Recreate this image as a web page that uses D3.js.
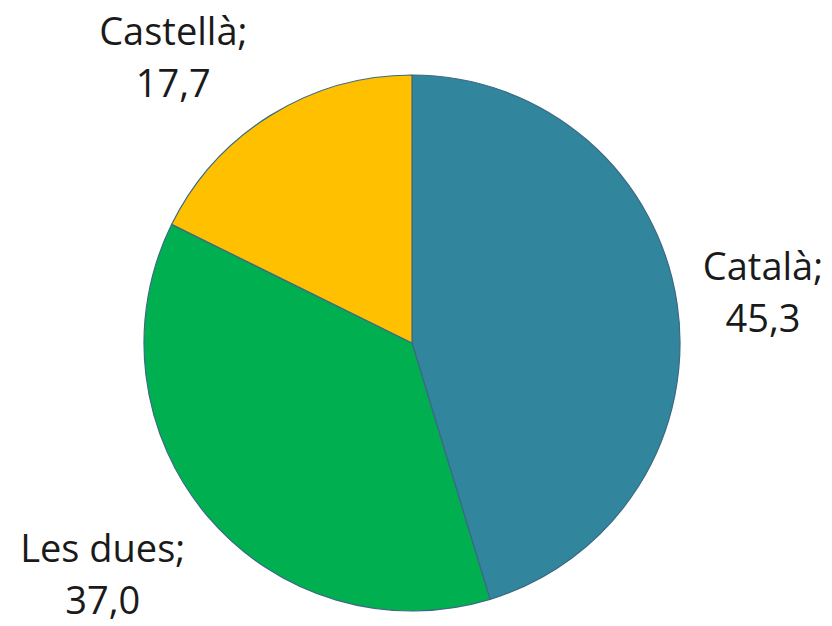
<!DOCTYPE html>
<html>
<head>
<meta charset="utf-8">
<script src="https://cdn.jsdelivr.net/npm/d3@7"></script>
<style>
  html, body { margin: 0; padding: 0; background: #ffffff; }
  svg { display: block; }
</style>
</head>
<body>
<svg id="chart" width="832" height="626"></svg>
<script>
// Language share (%)
const categories = ["Català", "Les dues", "Castellà"];
const values = [45.3, 37.0, 17.7];
const valueLabels = ["45,3", "37,0", "17,7"];
const colors = ["#31859C", "#00B050", "#FFC000"];

const W = 832, H = 626;
const cx = 412, cy = 343, R = 268;

const svg = d3.select("#chart");
const g = svg.append("g").attr("transform", `translate(${cx},${cy})`);

const pie = d3.pie().sort(null).value(d => d.value);
const arcs = pie(categories.map((c, i) => ({ name: c, value: values[i], label: valueLabels[i], color: colors[i] })));

const arc = d3.arc().innerRadius(0).outerRadius(R);

g.selectAll("path.slice")
  .data(arcs)
  .enter().append("path")
  .attr("class", "slice")
  .attr("d", arc)
  .attr("fill", d => d.data.color)
  .attr("stroke", "#3B6A82")
  .attr("stroke-width", 1.2)
  .attr("stroke-linejoin", "round");

// Data labels sit outside the pie along each slice's mid-angle,
// with small per-slice nudges for a best-fit placement.
const labelRadius = 365;
const nudges = [[-10, 3], [-31, -5], [-46, 24]];
const lineGap = 52;

arcs.forEach((d, i) => {
  const mid = (d.startAngle + d.endAngle) / 2;
  const x = Math.sin(mid) * labelRadius + nudges[i][0];
  const y = -Math.cos(mid) * labelRadius + nudges[i][1];
  const t = g.append("text")
    .attr("text-anchor", "middle")
    .attr("font-family", "'Open Sans', 'DejaVu Sans', sans-serif")
    .attr("font-size", 38)
    .attr("fill", "#1a1a1a");
  t.append("tspan").attr("x", x).attr("y", y - lineGap / 2 + 14).text(d.data.name + ";");
  t.append("tspan").attr("x", x).attr("y", y + lineGap / 2 + 14).text(d.data.label);
});
</script>
</body>
</html>
